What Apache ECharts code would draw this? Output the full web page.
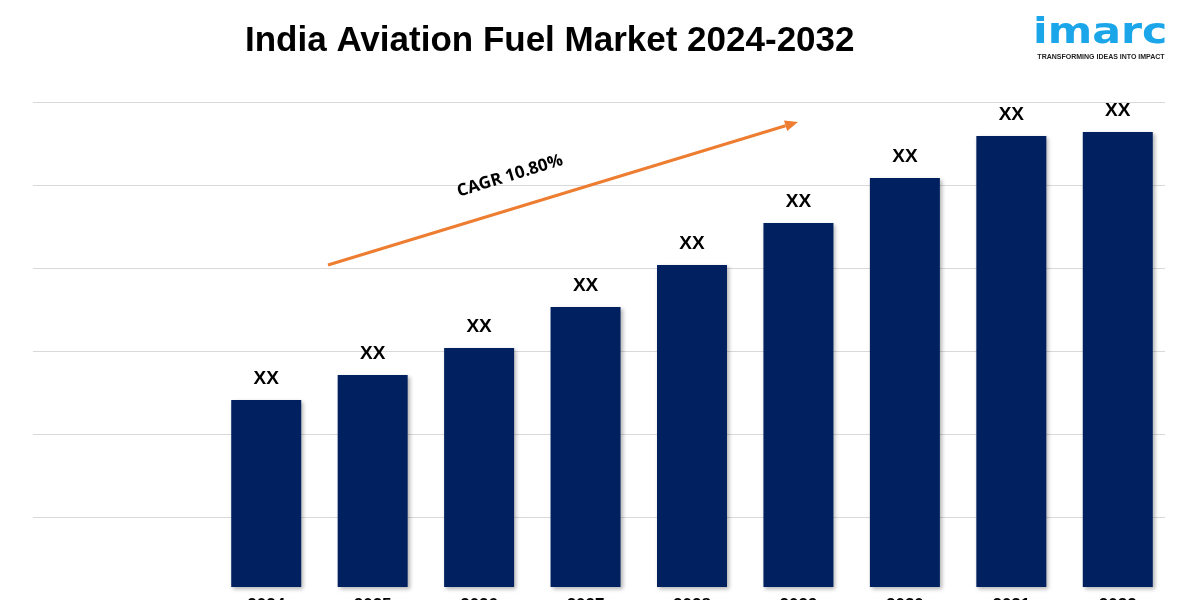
<!DOCTYPE html>
<html>
<head>
<meta charset="utf-8">
<script src="https://cdn.jsdelivr.net/npm/echarts@6/dist/echarts.min.js"></script>
<style>
html,body{margin:0;padding:0;background:#fff;}
#chart{width:1200px;height:600px;}
</style>
</head>
<body>
<div id="chart"></div>
<script>
const categories = ['2024','2025','2026','2027','2028','2029','2030','2031','2032'];
const values = [18.7, 21.2, 23.9, 28.0, 32.2, 36.4, 40.9, 45.1, 45.5];
const barLabels = ['XX','XX','XX','XX','XX','XX','XX','XX','XX'];
const titleText = 'India Aviation Fuel Market 2024-2032';
const cagrText = 'CAGR 10.80%';

const chart = echarts.init(document.getElementById('chart'));

const tip = [798, 122], start = [328, 265];
const dx = tip[0] - start[0], dy = tip[1] - start[1];
const len = Math.sqrt(dx * dx + dy * dy);
const ux = dx / len, uy = dy / len;
const nx = -uy, ny = ux;
const hl = 13, hw = 5.5;
const base = [tip[0] - hl * ux, tip[1] - hl * uy];

chart.setOption({
  backgroundColor: '#ffffff',
  animation: false,
  title: {
    text: titleText,
    left: 240, top: 19,
    textStyle: { fontFamily: 'Liberation Sans, Arial, sans-serif', fontWeight: 'bold', fontSize: 35, color: '#000' }
  },
  grid: [
    { left: 33, right: 35, top: 102, bottom: 0, outerBoundsMode: 'none', containLabel: false },
    { left: 213, right: 29, top: 102, bottom: 13, outerBoundsMode: 'none', containLabel: false }
  ],
  xAxis: [
    { gridIndex: 0, type: 'value', min: 0, max: 1, show: false },
    { gridIndex: 1, type: 'category', data: categories,
      axisLine: { show: false }, axisTick: { show: false },
      axisLabel: { margin: 10, fontFamily: 'Liberation Sans, Arial, sans-serif', fontWeight: 'bold', fontSize: 17, color: '#000' } }
  ],
  yAxis: [
    { gridIndex: 0, type: 'value', min: 0, max: 6, interval: 1,
      axisLine: { show: false }, axisTick: { show: false }, axisLabel: { show: false },
      splitLine: { show: true, lineStyle: { color: '#d9d9d9', width: 1 } } },
    { gridIndex: 1, type: 'value', min: 0, max: 48.5, show: false, splitLine: { show: false } }
  ],
  series: [{
    type: 'bar',
    xAxisIndex: 1, yAxisIndex: 1,
    data: values,
    barWidth: 70,
    itemStyle: {
      color: '#002060',
      shadowBlur: 4, shadowColor: 'rgba(0,0,0,0.3)', shadowOffsetX: 2, shadowOffsetY: 2
    },
    label: {
      show: true, position: 'top', distance: 12,
      formatter: p => barLabels[p.dataIndex],
      fontFamily: 'Liberation Sans, Arial, sans-serif', fontWeight: 'bold', fontSize: 19, color: '#000'
    }
  }],
  graphic: [
    { type: 'line', shape: { x1: start[0], y1: start[1], x2: base[0], y2: base[1] },
      style: { stroke: '#ED7D31', lineWidth: 3 }, z: 10 },
    { type: 'polygon', shape: { points: [tip, [base[0] + hw * nx, base[1] + hw * ny], [base[0] - hw * nx, base[1] - hw * ny]] },
      style: { fill: '#ED7D31' }, z: 10 },
    { type: 'text', x: 510, y: 176, rotation: 17 * Math.PI / 180,
      style: { text: cagrText, fontFamily: 'Open Sans, sans-serif', fontWeight: 'bold', fontSize: 17, fill: '#000',
        align: 'center', verticalAlign: 'middle' }, z: 10 },
    { type: 'text', x: 1033, y: 16, scaleX: 1.22,
      style: { text: 'imarc', fontFamily: 'DejaVu Sans, sans-serif', fontWeight: 'bold', fontSize: 35, fill: '#1BA6EA',
        align: 'left', verticalAlign: 'top' }, z: 10 },
    { type: 'text', x: 1101, y: 57,
      style: { text: 'TRANSFORMING IDEAS INTO IMPACT', fontFamily: 'Liberation Sans, Arial, sans-serif', fontWeight: 'bold', fontSize: 7, fill: '#222',
        align: 'center', verticalAlign: 'middle' }, z: 10 }
  ]
});
</script>
</body>
</html>
